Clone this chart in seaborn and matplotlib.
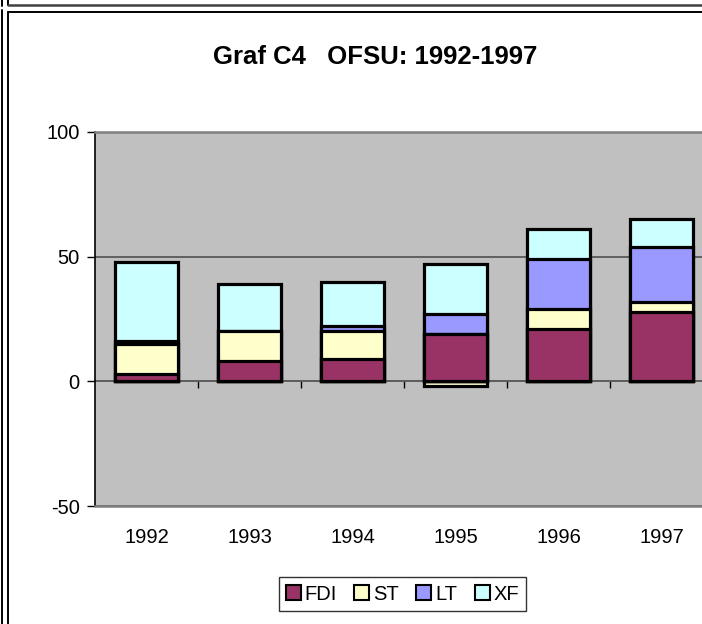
import numpy as np
import matplotlib
matplotlib.use("Agg")
import matplotlib.pyplot as plt
from matplotlib.patches import Patch
from matplotlib.lines import Line2D
import seaborn as sns

years = ["1992", "1993", "1994", "1995", "1996", "1997"]
fdi = [3, 8, 9, 19, 21, 28]
st = [12, 12, 11, -2, 8, 4]
lt = [1, 0, 2, 8, 20, 22]
xf = [32, 19, 18, 20, 12, 11]

series_names = ["FDI", "ST", "LT", "XF"]
series_colors = ["#993366", "#FFFFCC", "#9999FF", "#CCFFFF"]

sns.set_style("white")
plt.rcParams["font.family"] = ["Liberation Sans", "DejaVu Sans"]
plt.rcParams["axes.unicode_minus"] = False
for key in ["text.color", "xtick.color", "ytick.color", "axes.labelcolor"]:
    plt.rcParams[key] = "black"

W, H = 702, 624
fig = plt.figure(figsize=(W / 100, H / 100), dpi=100)
ax = fig.add_axes([95 / W, 1 - 506 / H, 618 / W, 374 / H])
ax.set_facecolor("#C0C0C0")

# stack positives upward, negatives downward
vals = np.array([fdi, st, lt, xf], dtype=float)
pos = np.clip(vals, 0, None).cumsum(axis=0)
neg = np.clip(vals, None, 0).cumsum(axis=0)

bar_kw = dict(width=0.62, edgecolor="black", linewidth=2.3, saturation=1,
              errorbar=None, ax=ax, zorder=3)

# negative part first (only ST goes below zero)
sns.barplot(x=years, y=neg[1], color=series_colors[1], **bar_kw)
# positive layers back to front
for i in range(3, -1, -1):
    sns.barplot(x=years, y=pos[i], color=series_colors[i], **bar_kw)

ax.set_xlim(-0.5, 5.5)
ax.set_ylim(-50, 100)
ax.set_yticks([-50, 0, 50, 100])
ax.yaxis.grid(True, color="#606060", linewidth=1.4, zorder=1)
ax.set_axisbelow(True)
ax.tick_params(axis="y", direction="out", length=6, width=1, color="black",
               labelsize=14.5, pad=5, left=True)
ax.tick_params(axis="x", length=0, labelsize=14.5, pad=16)

for side in ["top", "bottom", "right"]:
    ax.spines[side].set_color("#808080")
    ax.spines[side].set_linewidth(1.8)
ax.spines["left"].set_color("black")
ax.spines["left"].set_linewidth(1.2)

# category axis crossing at zero
zero_ax = ax.secondary_xaxis(50 / 150)
zero_ax.set_xticks([0.5, 1.5, 2.5, 3.5, 4.5, 5.5])
zero_ax.set_xticklabels([])
zero_ax.tick_params(direction="out", length=5, width=1, color="black")
zero_ax.spines["bottom"].set_color("black")
zero_ax.spines["bottom"].set_linewidth(1.2)

fig.text(375.5 / W, 1 - 57 / H, "Graf C4   OFSU: 1992-1997",
         ha="center", va="center", fontsize=18.5, fontweight="bold")

handles = [Patch(facecolor=c, edgecolor="black", linewidth=1.5) for c in series_colors]
leg = fig.legend(handles, series_names, loc="center",
                 bbox_to_anchor=(402.5 / W, 1 - 594 / H), ncol=4,
                 fontsize=14.5, frameon=True, fancybox=False,
                 handlelength=0.75, handleheight=0.75, handletextpad=0.2,
                 columnspacing=0.85, borderpad=0.35)
leg.get_frame().set_edgecolor("black")
leg.get_frame().set_linewidth(1)

# surrounding frame lines
def fline(x0, y0, x1, y1, color="black", lw=1.4):
    fig.add_artist(Line2D([x0 / W, x1 / W], [1 - y0 / H, 1 - y1 / H],
                          color=color, linewidth=lw))

fline(1.5, 0, 1.5, 6)
fline(1.5, 10, 1.5, H)
fline(8, 0, 8, 5)
fline(8, 4.5, W, 4.5, color="#404040", lw=1.8)
fline(8, 12, W, 12)
fline(8, 12, 8, H)

fig.savefig("out.png", dpi=100)
